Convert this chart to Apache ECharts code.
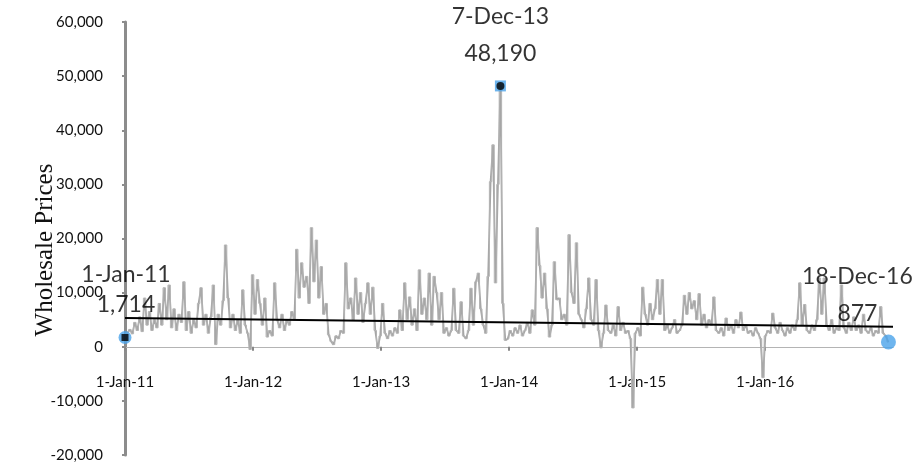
<!DOCTYPE html>
<html><head><meta charset="utf-8">
<script src="https://cdn.jsdelivr.net/npm/echarts@6/dist/echarts.min.js"></script>
<style>html,body{margin:0;padding:0;background:#fff}#c{width:915px;height:466px}</style>
</head><body><div id="c"></div>
<script>
// Tick labels for the x axis (1 January of each year)
const xTickLabels = ['1-Jan-11','1-Jan-12','1-Jan-13','1-Jan-14','1-Jan-15','1-Jan-16'];

// Weekly wholesale prices (week 0 = 1-Jan-11)
const prices2011 = [1714,2600,3200,2400,4500,3000,5500,2800,9000,4000,6500,3000,5000,3500,8000,4000,10900,5000,11400,3500,7000,3000,6000,4500,12000,3000,6500,2500,5000,3500,8000,10900,4000,6000,2500,5500,11400,400,6000,4000,8500,18800,9000,3500,6000,3000,5000,2500,10500,4000,2500,-500];
const prices2012 = [13300,6000,12400,8000,4000,9000,1800,3000,2000,11800,5000,3500,6000,3000,5000,4000,6500,5000,18000,9000,15500,11000,13000,8000,22000,12000,19700,9000,14800,6000,8000,2200,1000,400,2000,1500,3000,2500,15500,7000,9000,5000,12700,6000,10000,4500,8000,11800,6000,11000,3000,-300];
const prices2013 = [2000,8000,2500,1500,3000,2000,3500,2500,6800,3000,11800,5000,9200,4000,7000,3000,14200,6000,9000,5000,13600,4000,13000,10000,5000,10000,2500,3500,2000,3000,10800,3000,2500,8300,2000,1500,3000,10800,4000,12000,13600,7000,4000,2500,13000,30500,37300,11800,30000,48190,8000,1200];
const prices2014 = [1500,3000,2000,3500,2500,4000,2000,3000,4500,2500,6800,4000,22000,15000,9000,13600,7000,1800,4000,15700,8700,9000,5000,6000,4000,20700,10000,8000,19200,6000,5000,3500,7000,12700,5000,4000,12400,3000,-200,2500,7700,3000,2500,4000,2000,7400,3000,4500,2500,3000,1500,-11300];
const prices2015 = [2500,3500,2000,11000,6000,4000,8000,5000,7000,12400,6000,12400,3000,4000,2500,3500,5000,2500,3000,4000,9500,6000,10000,7000,8500,5000,9800,4000,6000,3500,5000,4000,9200,3000,2500,3500,2000,5300,3000,4000,2500,5000,3500,6400,3000,4000,2500,3000,2000,3500,2500,1500];
const prices2016 = [-5700,2000,3000,2500,6200,3500,2500,4500,3000,2000,3500,2500,4000,3000,5000,11800,4000,7800,3000,2500,4000,3000,5000,12700,6000,12700,4000,3000,5000,2500,3500,3000,11400,3500,2500,4500,3000,5500,3000,4000,2500,6000,3000,2500,3500,2000,3000,2500,7400,2500,2000,877];

// Highlighted points
const highlightLabels = ['1-Jan-11','7-Dec-13','18-Dec-16'];
const highlightWeeks = [0,153,311];

// Linear trend (start / end of the axis)
const trendValues = [5310,3700];

const daysPerWeek = 7;
const lastDay = 2178;      // 18-Dec-16, days since 1-Jan-11
const axisEndDay = 2191;   // 31-Dec-16
const daysPerYear = 365.25;

const prices = [].concat(prices2011,prices2012,prices2013,prices2014,prices2015,prices2016);
const dayOf = i => (i === prices.length - 1 ? lastDay : i * daysPerWeek);
const priceData = prices.map((v,i) => [dayOf(i), v]);
const trendData = [[0, trendValues[0]],[axisEndDay, trendValues[1]]];

const labelStyles = [
  {offset:[1,-6], lineHeight:30},
  {offset:[0,-3], lineHeight:37},
  {offset:[-31,3], lineHeight:37}
];
const highlightData = highlightWeeks.map((w,k) => ({
  value: [dayOf(w), prices[w]],
  name: highlightLabels[k],
  symbol: k === 1 ? 'rect' : 'circle',
  symbolSize: k === 1 ? 11 : (k === 2 ? 15 : 13),
  label: labelStyles[k]
}));
const innerData = [
  {value:[dayOf(highlightWeeks[0]), prices[highlightWeeks[0]]], symbol:'rect', symbolSize:7},
  {value:[dayOf(highlightWeeks[1]), prices[highlightWeeks[1]]], symbol:'circle', symbolSize:8}
];

const chart = echarts.init(document.getElementById('c'), null, {renderer:'canvas'});
chart.setOption({
  animation:false,
  backgroundColor:'#fff',
  grid:{left:125,right:22,top:22,bottom:11,containLabel:false,outerBoundsMode:'none'},
  xAxis:{
    type:'value', min:0, max:axisEndDay, interval:daysPerYear,
    axisLine:{onZero:true, lineStyle:{color:'#b4b4b4', width:1}},
    axisTick:{show:true, length:4, inside:false, lineStyle:{color:'#888', width:2}},
    splitLine:{show:false},
    axisLabel:{
      margin:-80, color:'#111', fontSize:15, fontFamily:'Lato',
      showMaxLabel:false,
      formatter: v => { const k = Math.round(v/daysPerYear); return Math.abs(v/daysPerYear - k) < 0.01 ? (xTickLabels[k] || '') : ''; }
    }
  },
  yAxis:{
    type:'value', min:-20000, max:60000, interval:10000,
    axisLine:{show:true, lineStyle:{color:'#8c8c8c', width:3}},
    axisTick:{show:true, length:3, lineStyle:{color:'#8c8c8c', width:2}},
    splitLine:{show:false},
    axisLabel:{margin:22, color:'#111', fontSize:15, fontFamily:'Lato',
      formatter: v => v.toLocaleString('en-US')}
  },
  graphic:[{
    type:'text', x:45, y:250, rotation:Math.PI/2,
    style:{text:'Wholesale Prices', font:'25px "Liberation Serif"', fill:'#111', align:'center', verticalAlign:'middle'}
  }],
  series:[
    {type:'line', data:priceData, showSymbol:false, symbol:'none',
     lineStyle:{color:'#a6a6a6', width:1.8}, z:2},
    {type:'line', data:priceData, step:'middle', showSymbol:false, symbol:'none',
     lineStyle:{color:'#b3b3b3', width:1}, z:2},
    {type:'line', data:trendData, showSymbol:false, symbol:'none',
     lineStyle:{color:'#000', width:2}, z:3},
    {type:'scatter', data:highlightData, itemStyle:{color:'#4aa3ea'}, z:4,
     label:{show:true, position:'top', color:'#000', fontFamily:'Lato', fontSize:23,
       formatter: p => p.name + '\n' + p.value[1].toLocaleString('en-US')}},
    {type:'scatter', data:innerData, itemStyle:{color:'#000'}, z:5, silent:true}
  ]
});
</script></body></html>
